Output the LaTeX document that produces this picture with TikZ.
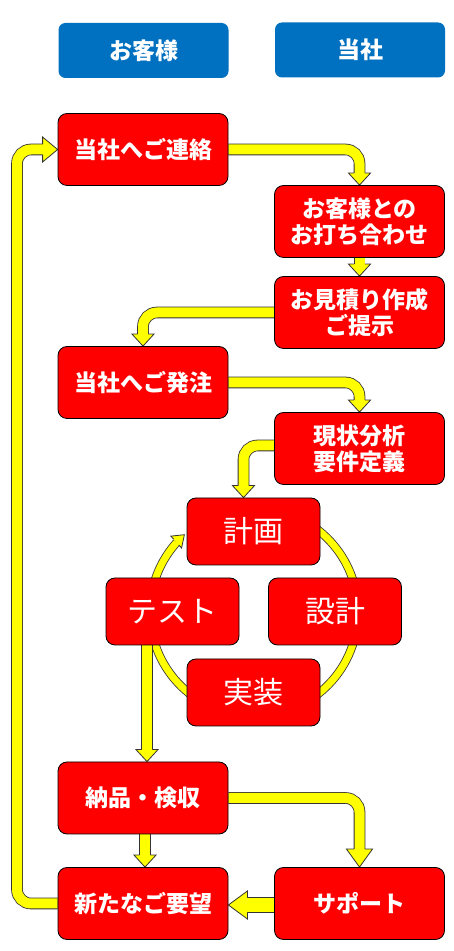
\documentclass[tikz,border=0pt]{standalone}
\usepackage{fontspec}
\newfontfamily\jp{Noto Sans CJK JP}
\usetikzlibrary{calc,backgrounds}
\definecolor{hblue}{HTML}{0070C0}
\definecolor{bred}{HTML}{FF0000}
\definecolor{ayel}{HTML}{FFFF00}
\tikzset{
  box/.style={draw=black, line width=0.8pt, fill=bred, rounded corners=9pt,
    minimum width=170pt, minimum height=72pt, text=white, align=center, inner sep=0pt,
    font=\jp\bfseries\fontsize{23}{26}\selectfont},
  cyc/.style={box, minimum width=133pt, minimum height=67pt,
    font=\jp\fontsize{30}{34}\selectfont},
  hdr/.style={fill=hblue, rounded corners=7pt, minimum width=170pt, minimum height=55pt,
    text=white, inner sep=0pt, font=\jp\bfseries\fontsize{23}{26}\selectfont},
  shaft/.style={draw=black!80, line width=0.8pt, double=ayel, double distance=10pt,
    rounded corners=14pt, shorten >=11.5pt},
  outl/.style={draw=black!80, line width=0.8pt, line join=miter},
  pics/ahead/.style n args={3}{code={
    \fill[ayel] (-#1,-#2) -- (0,0) -- (-#1,#2) -- cycle;
    \draw[outl] (-#1,-#3) -- (-#1,-#2) -- (0,0) -- (-#1,#2) -- (-#1,#3);
  }}
}
\begin{document}
\begin{tikzpicture}[x=1pt,y=1pt]
\useasboundingbox (0,0) rectangle (454,951);
% headers
\node[hdr] (hdrC) at (143.5,900.5) {お客様};
\node[hdr] (hdrT) at (360,901) {当社};
% main boxes
\node[box] (renraku) at (143,801.5) {当社へご連絡};
\node[box] (uchiawase) at (359.5,729.5) {お客様との\\お打ち合わせ};
\node[box] (mitsumori) at (359.5,638.5) {お見積り作成\\ご提示};
\node[box] (hatchu) at (143,568.5) {当社へご発注};
\node[box] (genjo) at (359.5,502.5) {現状分析\\要件定義};
\node[cyc] (keikaku) at (253.5,419.5) {計画};
\node[cyc] (test) at (172.5,339.5) {テスト};
\node[cyc] (sekkei) at (335,339.5) {設計};
\node[cyc] (jisso) at (253.5,258.5) {実装};
\node[box] (nohin) at (143,153) {納品・検収};
\node[box] (yobo) at (143,47.5) {新たなご要望};
\node[box] (support) at (359.5,47.5) {サポート};
\coordinate (ringc) at (254,339);
\coordinate (leftx) at (17,0);
\coordinate (kin) at ($(keikaku.north)+(-10,0)$);
\coordinate (gout) at ($(genjo.west)+(0,3)$);
\coordinate (tout) at ($(test.south -| nohin.north)+(4,0)$);
\coordinate (nin) at ($(nohin.north)+(4,0)$);
\coordinate (nout) at ($(nohin.south)+(2,0)$);
\coordinate (yin) at ($(yobo.north)+(2,0)$);
\coordinate (sout) at ($(support.west)+(0,-1.5)$);
\coordinate (yin2) at ($(yobo.east)+(0,-1.5)$);
\begin{scope}[on background layer]
  \fill[white] (0,0) rectangle (454,951);
  % cycle ring
  \draw[shaft, double distance=7pt, shorten >=0pt] ($(ringc)+(80:104)$) arc[start angle=80, end angle=-222, radius=104];
  \pic[rotate=42] at ($(ringc)+(132:104)$) {ahead={11}{8}{3.9}};
  % flow arrows
  \draw[shaft] (renraku.east) -| (uchiawase.north);
  \pic[rotate=-90] at (uchiawase.north) {ahead={12}{11}{5.4}};
  \draw[shaft] (uchiawase.south) -- (mitsumori.north);
  \pic[rotate=-90] at (mitsumori.north) {ahead={12}{11}{5.4}};
  \draw[shaft] (mitsumori.west) -| (hatchu.north);
  \pic[rotate=-90] at (hatchu.north) {ahead={12}{11}{5.4}};
  \draw[shaft] (hatchu.east) -| (genjo.north);
  \pic[rotate=-90] at (genjo.north) {ahead={12}{11}{5.4}};
  \draw[shaft] (gout) -| (kin);
  \pic[rotate=-90] at (kin) {ahead={12}{11}{5.4}};
  \draw[shaft] (tout) -- (nin);
  \pic[rotate=-90] at (nin) {ahead={12}{11}{5.4}};
  \draw[shaft] (nout) -- (yin);
  \pic[rotate=-90] at (yin) {ahead={12}{11}{5.4}};
  \draw[shaft, shorten >=17.5pt] (nohin.east) -| (support.north);
  \pic[rotate=-90] at (support.north) {ahead={18}{13}{5.4}};
  \draw[shaft, double distance=14pt, shorten >=18.5pt] (sout) -- (yin2);
  \pic[rotate=180] at (yin2) {ahead={19}{14}{7.4}};
  \draw[shaft, shorten >=14.5pt] (yobo.west) -- (yobo.west -| leftx) |- (renraku.west);
  \pic at (renraku.west) {ahead={15}{12.5}{5.4}};
\end{scope}
\end{tikzpicture}
\end{document}
